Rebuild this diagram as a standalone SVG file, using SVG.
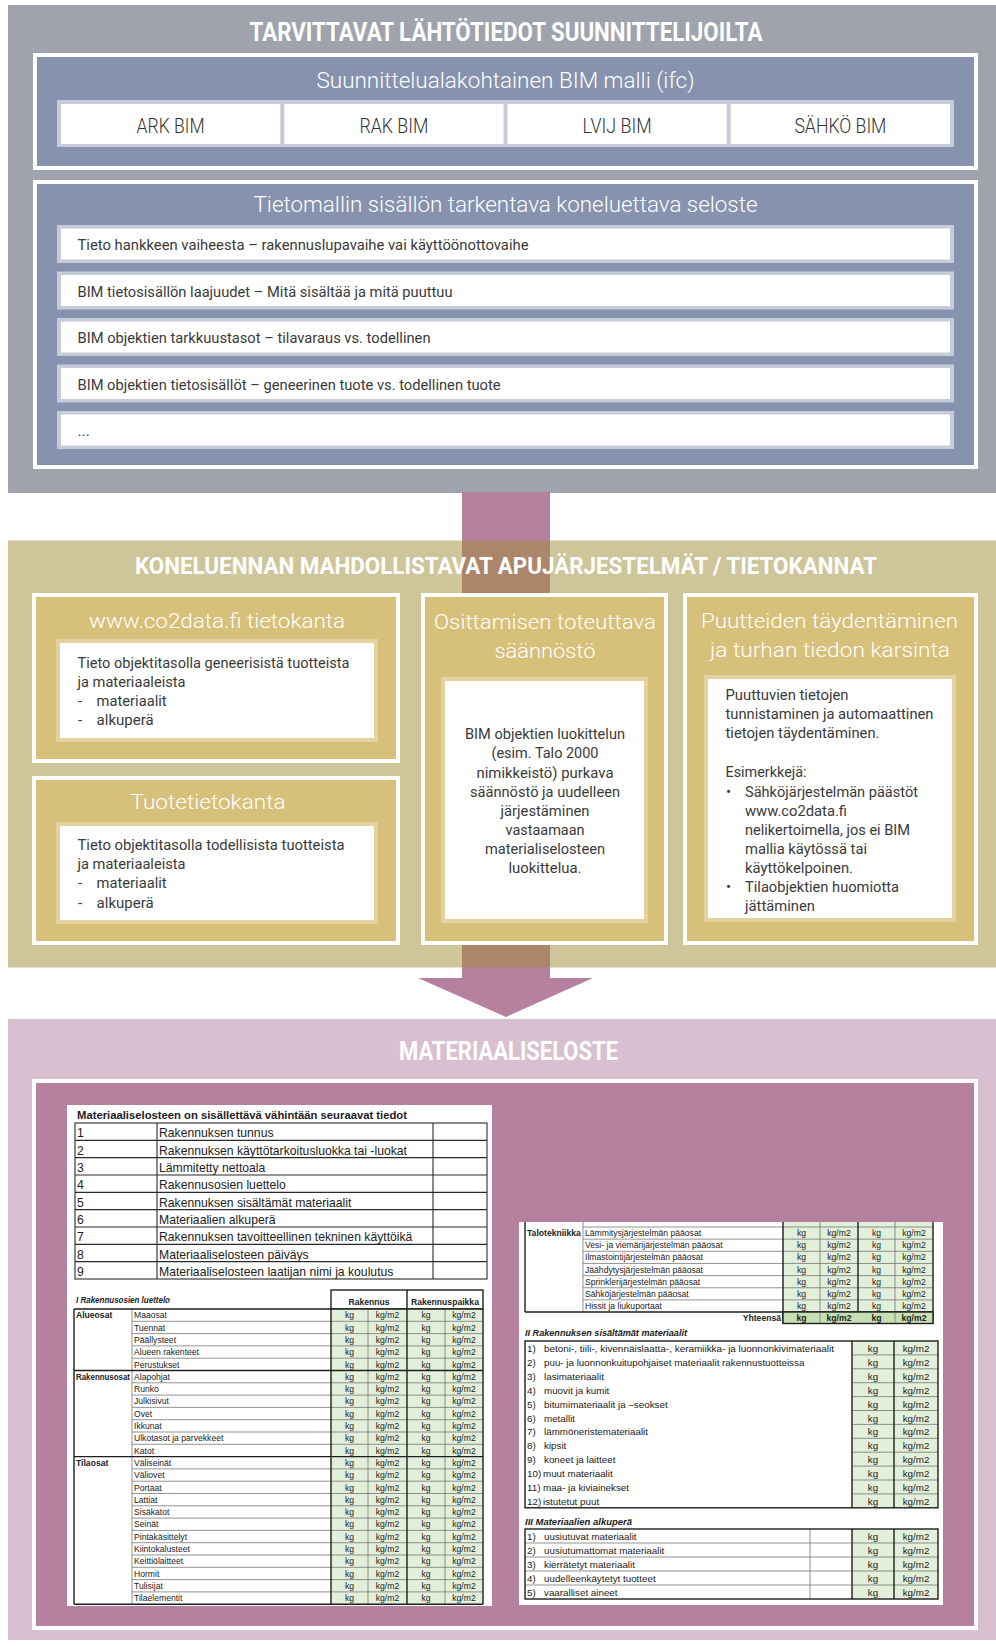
<svg xmlns="http://www.w3.org/2000/svg" width="996" height="1646" viewBox="0 0 996 1646">
<defs>
<style>
.h{font-family:Roboto,"Liberation Sans",sans-serif;font-weight:700;fill:#fff;text-anchor:middle}
.s{font-family:Roboto,"Liberation Sans",sans-serif;font-weight:300;fill:#fff;text-anchor:middle}
.bx{font-family:Roboto,"Liberation Sans",sans-serif;font-weight:300;fill:#333;text-anchor:middle;font-size:20px}
.tx{font-family:Roboto,"Liberation Sans",sans-serif;font-weight:400;fill:#3a3a3a;font-size:15px}
.row{font-family:Roboto,"Liberation Sans",sans-serif;font-weight:400;fill:#3a3a3a;font-size:15.5px}
.c{text-anchor:middle}
.doc{font-family:"Liberation Sans",Arial,sans-serif;fill:#222}
.sm{font-size:8.6px}
.md{font-size:9.8px}
.lg{font-size:12.2px}
.b{font-weight:700}
.bi{font-weight:700;font-style:italic}
.thin{stroke:#666;stroke-width:0.7;fill:none}
.thick{stroke:#1e1e1e;stroke-width:1.4;fill:none}
.mid{stroke:#2a2a2a;stroke-width:1.1;fill:none}
.g{fill:#e2efda}
.gd{fill:#c6e0b4}
.strip{fill:#c6cbd9}
.wh{fill:#fff}
.gold{fill:#d7c07a}
.goldedge{fill:#e4d39f}
</style>
</defs>

<rect x="0" y="0" width="996" height="1646" fill="#fff"/>

<!-- Upper panel: source data from designers -->
<g id="lahtotiedot">
  <rect x="8" y="5" width="988" height="488" fill="#a0a3ad"/>
  <text class="h" x="506" y="41" font-size="26" textLength="513" lengthAdjust="spacingAndGlyphs">TARVITTAVAT LÄHTÖTIEDOT SUUNNITTELIJOILTA</text>
</g>

<g id="bim-malli">
  <rect x="33" y="53" width="945" height="117" class="wh"/>
  <rect x="37" y="57" width="937" height="109" fill="#8692ae"/>
  <text class="s" x="505.5" y="88" font-size="22" textLength="378" lengthAdjust="spacingAndGlyphs">Suunnittelualakohtainen BIM malli (ifc)</text>
  <rect x="57" y="100" width="897" height="47" class="strip"/>
</g>
<g id="ark-bim">
  <rect x="61" y="104" width="219.25" height="40" class="wh"/>
  <text class="bx" x="170.6" y="133" textLength="68" lengthAdjust="spacingAndGlyphs">ARK BIM</text>
</g>
<g id="rak-bim">
  <rect x="284.25" y="104" width="219.25" height="40" class="wh"/>
  <text class="bx" x="393.9" y="133" textLength="69" lengthAdjust="spacingAndGlyphs">RAK BIM</text>
</g>
<g id="lvij-bim">
  <rect x="507.5" y="104" width="219.25" height="40" class="wh"/>
  <text class="bx" x="617.1" y="133" textLength="69" lengthAdjust="spacingAndGlyphs">LVIJ BIM</text>
</g>
<g id="sahko-bim">
  <rect x="730.75" y="104" width="219.25" height="40" class="wh"/>
  <text class="bx" x="840.4" y="133" textLength="92" lengthAdjust="spacingAndGlyphs">SÄHKÖ BIM</text>
</g>

<g id="seloste">
  <rect x="33" y="180" width="945" height="289" class="wh"/>
  <rect x="37" y="184" width="937" height="281" fill="#8692ae"/>
  <text class="s" x="505.5" y="212" font-size="21.5" textLength="504" lengthAdjust="spacingAndGlyphs">Tietomallin sisällön tarkentava koneluettava seloste</text>
</g>
<g id="seloste-vaihe">
  <rect x="57" y="225" width="897" height="38" class="strip"/>
  <rect x="61" y="228.5" width="889" height="31" class="wh"/>
  <text class="row" x="77.5" y="250" textLength="451" lengthAdjust="spacingAndGlyphs">Tieto hankkeen vaiheesta – rakennuslupavaihe vai käyttöönottovaihe</text>
</g>
<g id="seloste-laajuus">
  <rect x="57" y="271.5" width="897" height="38" class="strip"/>
  <rect x="61" y="275" width="889" height="31" class="wh"/>
  <text class="row" x="77.5" y="296.5" textLength="375" lengthAdjust="spacingAndGlyphs">BIM tietosisällön laajuudet – Mitä sisältää ja mitä puuttuu</text>
</g>
<g id="seloste-tarkkuus">
  <rect x="57" y="318" width="897" height="38" class="strip"/>
  <rect x="61" y="321.5" width="889" height="31" class="wh"/>
  <text class="row" x="77.5" y="343" textLength="353" lengthAdjust="spacingAndGlyphs">BIM objektien tarkkuustasot – tilavaraus vs. todellinen</text>
</g>
<g id="seloste-sisalto">
  <rect x="57" y="364.5" width="897" height="38" class="strip"/>
  <rect x="61" y="368" width="889" height="31" class="wh"/>
  <text class="row" x="77.5" y="389.5" textLength="423" lengthAdjust="spacingAndGlyphs">BIM objektien tietosisällöt – geneerinen tuote vs. todellinen tuote</text>
</g>
<g id="seloste-muut">
  <rect x="57" y="411" width="897" height="38" class="strip"/>
  <rect x="61" y="414.5" width="889" height="31" class="wh"/>
  <text class="row" x="77.5" y="436">...</text>
</g>

<!-- Flow arrow running through the middle panel -->
<g id="connectors">
  <path d="M462 492 H550 V978 H593 L506 1017 L418 978 H462 Z" fill="#b6819f"/>
</g>

<!-- Middle panel: supporting systems (translucent over the arrow) -->
<g id="apujarjestelmat">
  <rect x="8" y="540.5" width="988" height="427" fill="#9f8b37" fill-opacity="0.5"/>
  <text class="h" x="506" y="574" font-size="24" textLength="742" lengthAdjust="spacingAndGlyphs">KONELUENNAN MAHDOLLISTAVAT APUJÄRJESTELMÄT / TIETOKANNAT</text>
</g>

<g id="co2data">
  <rect x="32" y="593" width="368" height="170" class="wh"/>
  <rect x="36" y="597" width="360" height="162" class="gold"/>
  <text class="s" x="217" y="628" font-size="21" textLength="256" lengthAdjust="spacingAndGlyphs">www.co2data.fi tietokanta</text>
  <rect x="56" y="639" width="322" height="103" class="goldedge"/>
  <rect x="60" y="643" width="314" height="95" class="wh"/>
  <text class="tx" x="77.5" y="668" textLength="272" lengthAdjust="spacingAndGlyphs">Tieto objektitasolla geneerisistä tuotteista</text>
  <text class="tx" x="77.5" y="687" textLength="108" lengthAdjust="spacingAndGlyphs">ja materiaaleista</text>
  <text class="tx" x="78" y="706">-</text>
  <text class="tx" x="96.6" y="706" textLength="70" lengthAdjust="spacingAndGlyphs">materiaalit</text>
  <text class="tx" x="78" y="725">-</text>
  <text class="tx" x="96.6" y="725" textLength="57" lengthAdjust="spacingAndGlyphs">alkuperä</text>
</g>

<g id="tuotetietokanta">
  <rect x="32" y="776" width="368" height="169" class="wh"/>
  <rect x="36" y="780" width="360" height="161" class="gold"/>
  <text class="s" x="208" y="809" font-size="21" textLength="155" lengthAdjust="spacingAndGlyphs">Tuotetietokanta</text>
  <rect x="56" y="822" width="322" height="102" class="goldedge"/>
  <rect x="60" y="826" width="314" height="94" class="wh"/>
  <text class="tx" x="77.5" y="850" textLength="267" lengthAdjust="spacingAndGlyphs">Tieto objektitasolla todellisista tuotteista</text>
  <text class="tx" x="77.5" y="869" textLength="108" lengthAdjust="spacingAndGlyphs">ja materiaaleista</text>
  <text class="tx" x="78" y="888">-</text>
  <text class="tx" x="96.6" y="888" textLength="70" lengthAdjust="spacingAndGlyphs">materiaalit</text>
  <text class="tx" x="78" y="908">-</text>
  <text class="tx" x="96.6" y="908" textLength="57" lengthAdjust="spacingAndGlyphs">alkuperä</text>
</g>

<g id="osittaminen">
  <rect x="421" y="593" width="247" height="352" class="wh"/>
  <rect x="425" y="597" width="239" height="344" class="gold"/>
  <text class="s" x="545" y="629" font-size="21" textLength="222" lengthAdjust="spacingAndGlyphs">Osittamisen toteuttava</text>
  <text class="s" x="545" y="658" font-size="21" textLength="101" lengthAdjust="spacingAndGlyphs">säännöstö</text>
  <rect x="441" y="677" width="207" height="246" class="goldedge"/>
  <rect x="445" y="681" width="199" height="238" class="wh"/>
  <text class="tx c" x="545" y="739" textLength="160" lengthAdjust="spacingAndGlyphs">BIM objektien luokittelun</text>
  <text class="tx c" x="545" y="758" textLength="107" lengthAdjust="spacingAndGlyphs">(esim. Talo 2000</text>
  <text class="tx c" x="545" y="778" textLength="137" lengthAdjust="spacingAndGlyphs">nimikkeistö) purkava</text>
  <text class="tx c" x="545" y="797" textLength="150" lengthAdjust="spacingAndGlyphs">säännöstö ja uudelleen</text>
  <text class="tx c" x="545" y="816" textLength="89" lengthAdjust="spacingAndGlyphs">järjestäminen</text>
  <text class="tx c" x="545" y="835" textLength="79" lengthAdjust="spacingAndGlyphs">vastaamaan</text>
  <text class="tx c" x="545" y="854" textLength="120" lengthAdjust="spacingAndGlyphs">materialiselosteen</text>
  <text class="tx c" x="545" y="873" textLength="73" lengthAdjust="spacingAndGlyphs">luokittelua.</text>
</g>

<g id="puutteet">
  <rect x="683" y="593" width="295" height="352" class="wh"/>
  <rect x="687" y="597" width="287" height="344" class="gold"/>
  <text class="s" x="829.5" y="628" font-size="21" textLength="257" lengthAdjust="spacingAndGlyphs">Puutteiden täydentäminen</text>
  <text class="s" x="830" y="657" font-size="21" textLength="240" lengthAdjust="spacingAndGlyphs">ja turhan tiedon karsinta</text>
  <rect x="704" y="675" width="252" height="247" class="goldedge"/>
  <rect x="708" y="679" width="244" height="239" class="wh"/>
  <text class="tx" x="725.5" y="700" textLength="123" lengthAdjust="spacingAndGlyphs">Puuttuvien tietojen</text>
  <text class="tx" x="725.5" y="719" textLength="208" lengthAdjust="spacingAndGlyphs">tunnistaminen ja automaattinen</text>
  <text class="tx" x="725.5" y="738" textLength="154" lengthAdjust="spacingAndGlyphs">tietojen täydentäminen.</text>
  <text class="tx" x="725.5" y="777" textLength="81" lengthAdjust="spacingAndGlyphs">Esimerkkejä:</text>
  <text class="tx" x="726" y="797">•</text>
  <text class="tx" x="745" y="797" textLength="173" lengthAdjust="spacingAndGlyphs">Sähköjärjestelmän päästöt</text>
  <text class="tx" x="745" y="816" textLength="102" lengthAdjust="spacingAndGlyphs">www.co2data.fi</text>
  <text class="tx" x="745" y="835" textLength="165" lengthAdjust="spacingAndGlyphs">nelikertoimella, jos ei BIM</text>
  <text class="tx" x="745" y="854" textLength="122" lengthAdjust="spacingAndGlyphs">mallia käytössä tai</text>
  <text class="tx" x="745" y="873" textLength="108" lengthAdjust="spacingAndGlyphs">käyttökelpoinen.</text>
  <text class="tx" x="726" y="892">•</text>
  <text class="tx" x="745" y="892" textLength="154" lengthAdjust="spacingAndGlyphs">Tilaobjektien huomiotta</text>
  <text class="tx" x="745" y="911" textLength="70" lengthAdjust="spacingAndGlyphs">jättäminen</text>
</g>

<!-- Lower panel: material declaration -->
<g id="materiaaliseloste">
  <rect x="8" y="1019" width="988" height="621" fill="#d9c0d0"/>
  <text class="h" x="508.5" y="1060" font-size="25" textLength="219" lengthAdjust="spacingAndGlyphs">MATERIAALISELOSTE</text>
  <rect x="32" y="1079" width="946" height="551" class="wh"/>
  <rect x="36" y="1083" width="938" height="543" fill="#b6819f"/>
</g>

<!-- Form sheet, left: minimum contents and building part list -->
<g id="lomake-vahimmaistiedot" class="doc">
  <rect x="67" y="1105" width="425" height="501" class="wh"/>
  <text class="b" x="77" y="1119" font-size="11.5" textLength="330" lengthAdjust="spacingAndGlyphs">Materiaaliselosteen on sisällettävä vähintään seuraavat tiedot</text>
  <rect x="75" y="1123" width="412" height="156" class="mid"/>
  <path class="mid" d="M157 1123V1279M433 1123V1279M75 1140.33H487M75 1157.67H487M75 1175H487M75 1192.33H487M75 1209.67H487M75 1227H487M75 1244.33H487M75 1261.67H487"/>
  <g class="lg">
    <text x="77" y="1137.3">1</text><text x="159" y="1137.3">Rakennuksen tunnus</text>
    <text x="77" y="1154.6">2</text><text x="159" y="1154.6">Rakennuksen käyttötarkoitusluokka tai -luokat</text>
    <text x="77" y="1172">3</text><text x="159" y="1172">Lämmitetty nettoala</text>
    <text x="77" y="1189.3">4</text><text x="159" y="1189.3">Rakennusosien luettelo</text>
    <text x="77" y="1206.6">5</text><text x="159" y="1206.6">Rakennuksen sisältämät materiaalit</text>
    <text x="77" y="1224">6</text><text x="159" y="1224">Materiaalien alkuperä</text>
    <text x="77" y="1241.3">7</text><text x="159" y="1241.3">Rakennuksen tavoitteellinen tekninen käyttöikä</text>
    <text x="77" y="1258.6">8</text><text x="159" y="1258.6">Materiaaliselosteen päiväys</text>
    <text x="77" y="1276">9</text><text x="159" y="1276">Materiaaliselosteen laatijan nimi ja koulutus</text>
  </g>

  <text class="bi" x="76" y="1303" font-size="8.6" textLength="94" lengthAdjust="spacingAndGlyphs">I Rakennusosien luettelo</text>
  <rect x="331" y="1290" width="152" height="19" class="thick"/>
  <path class="thick" d="M407 1290V1309"/>
  <text class="sm b c" x="369" y="1305">Rakennus</text>
  <text class="sm b c" x="445" y="1305">Rakennuspaikka</text>

  <rect x="331" y="1309" width="152" height="295.2" class="g"/>
  <path class="thin" d="M132 1321.3H483M132 1333.6H483M132 1345.9H483M132 1358.2H483M132 1382.8H483M132 1395.1H483M132 1407.4H483M132 1419.7H483M132 1432H483M132 1444.3H483M132 1468.9H483M132 1481.2H483M132 1493.5H483M132 1505.8H483M132 1518.1H483M132 1530.4H483M132 1542.7H483M132 1555H483M132 1567.3H483M132 1579.6H483M132 1591.9H483M132 1309V1604.2M368 1309V1604.2M445 1309V1604.2"/>
  <path class="thick" d="M74 1309H483M74 1370.5H483M74 1456.6H483M74 1604.2H483M74 1309V1604.2M331 1309V1604.2M407 1309V1604.2M483 1309V1604.2"/>

  <g class="sm">
    <text class="b" x="76" y="1318.3">Alueosat</text>
    <text class="b" x="76" y="1379.8" textLength="54" lengthAdjust="spacingAndGlyphs">Rakennusosat</text>
    <text class="b" x="76" y="1465.9">Tilaosat</text>
    <text x="134" y="1318.3">Maaosat</text>
    <text x="134" y="1330.6">Tuennat</text>
    <text x="134" y="1342.9">Päällysteet</text>
    <text x="134" y="1355.2">Alueen rakenteet</text>
    <text x="134" y="1367.5">Perustukset</text>
    <text x="134" y="1379.8">Alapohjat</text>
    <text x="134" y="1392.1">Runko</text>
    <text x="134" y="1404.4">Julkisivut</text>
    <text x="134" y="1416.7">Ovet</text>
    <text x="134" y="1429">Ikkunat</text>
    <text x="134" y="1441.3">Ulkotasot ja parvekkeet</text>
    <text x="134" y="1453.6">Katot</text>
    <text x="134" y="1465.9">Väliseinät</text>
    <text x="134" y="1478.2">Väliovet</text>
    <text x="134" y="1490.5">Portaat</text>
    <text x="134" y="1502.8">Lattiat</text>
    <text x="134" y="1515.1">Sisäkatot</text>
    <text x="134" y="1527.4">Seinät</text>
    <text x="134" y="1539.7">Pintakäsittelyt</text>
    <text x="134" y="1552">Kiintokalusteet</text>
    <text x="134" y="1564.3">Keittiölaitteet</text>
    <text x="134" y="1576.6">Hormit</text>
    <text x="134" y="1588.9">Tulisijat</text>
    <text x="134" y="1601.2">Tilaelementit</text>
  </g>
  <g class="sm c">
    <text y="1318.3"><tspan x="349.5">kg</tspan><tspan x="387.5">kg/m2</tspan><tspan x="426">kg</tspan><tspan x="464">kg/m2</tspan></text>
    <text y="1330.6"><tspan x="349.5">kg</tspan><tspan x="387.5">kg/m2</tspan><tspan x="426">kg</tspan><tspan x="464">kg/m2</tspan></text>
    <text y="1342.9"><tspan x="349.5">kg</tspan><tspan x="387.5">kg/m2</tspan><tspan x="426">kg</tspan><tspan x="464">kg/m2</tspan></text>
    <text y="1355.2"><tspan x="349.5">kg</tspan><tspan x="387.5">kg/m2</tspan><tspan x="426">kg</tspan><tspan x="464">kg/m2</tspan></text>
    <text y="1367.5"><tspan x="349.5">kg</tspan><tspan x="387.5">kg/m2</tspan><tspan x="426">kg</tspan><tspan x="464">kg/m2</tspan></text>
    <text y="1379.8"><tspan x="349.5">kg</tspan><tspan x="387.5">kg/m2</tspan><tspan x="426">kg</tspan><tspan x="464">kg/m2</tspan></text>
    <text y="1392.1"><tspan x="349.5">kg</tspan><tspan x="387.5">kg/m2</tspan><tspan x="426">kg</tspan><tspan x="464">kg/m2</tspan></text>
    <text y="1404.4"><tspan x="349.5">kg</tspan><tspan x="387.5">kg/m2</tspan><tspan x="426">kg</tspan><tspan x="464">kg/m2</tspan></text>
    <text y="1416.7"><tspan x="349.5">kg</tspan><tspan x="387.5">kg/m2</tspan><tspan x="426">kg</tspan><tspan x="464">kg/m2</tspan></text>
    <text y="1429"><tspan x="349.5">kg</tspan><tspan x="387.5">kg/m2</tspan><tspan x="426">kg</tspan><tspan x="464">kg/m2</tspan></text>
    <text y="1441.3"><tspan x="349.5">kg</tspan><tspan x="387.5">kg/m2</tspan><tspan x="426">kg</tspan><tspan x="464">kg/m2</tspan></text>
    <text y="1453.6"><tspan x="349.5">kg</tspan><tspan x="387.5">kg/m2</tspan><tspan x="426">kg</tspan><tspan x="464">kg/m2</tspan></text>
    <text y="1465.9"><tspan x="349.5">kg</tspan><tspan x="387.5">kg/m2</tspan><tspan x="426">kg</tspan><tspan x="464">kg/m2</tspan></text>
    <text y="1478.2"><tspan x="349.5">kg</tspan><tspan x="387.5">kg/m2</tspan><tspan x="426">kg</tspan><tspan x="464">kg/m2</tspan></text>
    <text y="1490.5"><tspan x="349.5">kg</tspan><tspan x="387.5">kg/m2</tspan><tspan x="426">kg</tspan><tspan x="464">kg/m2</tspan></text>
    <text y="1502.8"><tspan x="349.5">kg</tspan><tspan x="387.5">kg/m2</tspan><tspan x="426">kg</tspan><tspan x="464">kg/m2</tspan></text>
    <text y="1515.1"><tspan x="349.5">kg</tspan><tspan x="387.5">kg/m2</tspan><tspan x="426">kg</tspan><tspan x="464">kg/m2</tspan></text>
    <text y="1527.4"><tspan x="349.5">kg</tspan><tspan x="387.5">kg/m2</tspan><tspan x="426">kg</tspan><tspan x="464">kg/m2</tspan></text>
    <text y="1539.7"><tspan x="349.5">kg</tspan><tspan x="387.5">kg/m2</tspan><tspan x="426">kg</tspan><tspan x="464">kg/m2</tspan></text>
    <text y="1552"><tspan x="349.5">kg</tspan><tspan x="387.5">kg/m2</tspan><tspan x="426">kg</tspan><tspan x="464">kg/m2</tspan></text>
    <text y="1564.3"><tspan x="349.5">kg</tspan><tspan x="387.5">kg/m2</tspan><tspan x="426">kg</tspan><tspan x="464">kg/m2</tspan></text>
    <text y="1576.6"><tspan x="349.5">kg</tspan><tspan x="387.5">kg/m2</tspan><tspan x="426">kg</tspan><tspan x="464">kg/m2</tspan></text>
    <text y="1588.9"><tspan x="349.5">kg</tspan><tspan x="387.5">kg/m2</tspan><tspan x="426">kg</tspan><tspan x="464">kg/m2</tspan></text>
    <text y="1601.2"><tspan x="349.5">kg</tspan><tspan x="387.5">kg/m2</tspan><tspan x="426">kg</tspan><tspan x="464">kg/m2</tspan></text>
  </g>
</g>

<!-- Form sheet, right: building services, materials and origin -->
<g id="lomake-materiaalit" class="doc">
  <rect x="519" y="1222" width="424" height="383" class="wh"/>
  <rect x="783" y="1222" width="150" height="90" class="g"/>
  <path class="thin" d="M583 1227H933M583 1239.15H933M583 1251.3H933M583 1263.45H933M583 1275.6H933M583 1287.75H933M583 1299.9H933M583 1222V1312M820 1222V1312M895 1222V1312"/>
  <path class="thick" d="M525 1222V1312M525 1312H933M783 1222V1323.5M858 1222V1323.5M933 1222V1323.5"/>
  <rect x="783" y="1312" width="150" height="11.5" class="gd"/>
  <rect x="783" y="1312" width="150" height="11.5" class="thick"/>
  <path class="thin" d="M820 1312V1323.5M895 1312V1323.5"/>
  <g class="sm">
    <text class="b" x="527" y="1236">Talotekniikka</text>
    <text x="585" y="1236">Lämmitysjärjestelmän pääosat</text>
    <text x="585" y="1248.2">Vesi- ja viemärijärjestelmän pääosat</text>
    <text x="585" y="1260.3">Ilmastointijärjestelmän pääosat</text>
    <text x="585" y="1272.5">Jäähdytysjärjestelmän pääosat</text>
    <text x="585" y="1284.6">Sprinklerijärjestelmän pääosat</text>
    <text x="585" y="1296.8">Sähköjärjestelmän pääosat</text>
    <text x="585" y="1308.9">Hissit ja liukuportaat</text>
    <text class="b" x="781" y="1321" text-anchor="end">Yhteensä</text>
  </g>
  <g class="sm c">
    <text y="1236"><tspan x="801.5">kg</tspan><tspan x="839">kg/m2</tspan><tspan x="876.5">kg</tspan><tspan x="914">kg/m2</tspan></text>
    <text y="1248.2"><tspan x="801.5">kg</tspan><tspan x="839">kg/m2</tspan><tspan x="876.5">kg</tspan><tspan x="914">kg/m2</tspan></text>
    <text y="1260.3"><tspan x="801.5">kg</tspan><tspan x="839">kg/m2</tspan><tspan x="876.5">kg</tspan><tspan x="914">kg/m2</tspan></text>
    <text y="1272.5"><tspan x="801.5">kg</tspan><tspan x="839">kg/m2</tspan><tspan x="876.5">kg</tspan><tspan x="914">kg/m2</tspan></text>
    <text y="1284.6"><tspan x="801.5">kg</tspan><tspan x="839">kg/m2</tspan><tspan x="876.5">kg</tspan><tspan x="914">kg/m2</tspan></text>
    <text y="1296.8"><tspan x="801.5">kg</tspan><tspan x="839">kg/m2</tspan><tspan x="876.5">kg</tspan><tspan x="914">kg/m2</tspan></text>
    <text y="1308.9"><tspan x="801.5">kg</tspan><tspan x="839">kg/m2</tspan><tspan x="876.5">kg</tspan><tspan x="914">kg/m2</tspan></text>
    <text y="1321" class="b"><tspan x="801.5">kg</tspan><tspan x="839">kg/m2</tspan><tspan x="876.5">kg</tspan><tspan x="914">kg/m2</tspan></text>
  </g>

  <text class="bi" x="525" y="1336" font-size="9.8" textLength="162" lengthAdjust="spacingAndGlyphs">II Rakennuksen sisältämät materiaalit</text>
  <rect x="852" y="1341" width="86" height="166.8" class="g"/>
  <path class="thin" d="M852 1354.9H938M852 1368.8H938M852 1382.7H938M852 1396.6H938M852 1410.5H938M852 1424.4H938M852 1438.3H938M852 1452.2H938M852 1466.1H938M852 1480H938M852 1493.9H938"/>
  <rect x="525" y="1341" width="413" height="166.8" class="thick"/>
  <path class="thick" d="M852 1341V1507.8M894 1341V1507.8"/>
  <g class="md">
    <text x="527" y="1352">1)</text><text x="544" y="1352" textLength="290" lengthAdjust="spacingAndGlyphs">betoni-, tiili-, kivennäislaatta-, keramiikka- ja luonnonkivimateriaalit</text>
    <text x="527" y="1365.9">2)</text><text x="544" y="1365.9">puu- ja luonnonkuitupohjaiset materiaalit rakennustuotteissa</text>
    <text x="527" y="1379.8">3)</text><text x="544" y="1379.8">lasimateriaalit</text>
    <text x="527" y="1393.7">4)</text><text x="544" y="1393.7">muovit ja kumit</text>
    <text x="527" y="1407.6">5)</text><text x="544" y="1407.6">bitumimateriaalit ja –seokset</text>
    <text x="527" y="1421.5">6)</text><text x="544" y="1421.5">metallit</text>
    <text x="527" y="1435.4">7)</text><text x="544" y="1435.4">lämmöneristemateriaalit</text>
    <text x="527" y="1449.3">8)</text><text x="544" y="1449.3">kipsit</text>
    <text x="527" y="1463.2">9)</text><text x="544" y="1463.2">koneet ja laitteet</text>
    <text x="527" y="1477.1">10)</text><text x="543" y="1477.1">muut materiaalit</text>
    <text x="527" y="1491">11)</text><text x="543" y="1491">maa- ja kiviainekset</text>
    <text x="527" y="1504.9">12)</text><text x="543" y="1504.9">istutetut puut</text>
  </g>
  <g class="md c">
    <text y="1352"><tspan x="873">kg</tspan><tspan x="916">kg/m2</tspan></text>
    <text y="1365.9"><tspan x="873">kg</tspan><tspan x="916">kg/m2</tspan></text>
    <text y="1379.8"><tspan x="873">kg</tspan><tspan x="916">kg/m2</tspan></text>
    <text y="1393.7"><tspan x="873">kg</tspan><tspan x="916">kg/m2</tspan></text>
    <text y="1407.6"><tspan x="873">kg</tspan><tspan x="916">kg/m2</tspan></text>
    <text y="1421.5"><tspan x="873">kg</tspan><tspan x="916">kg/m2</tspan></text>
    <text y="1435.4"><tspan x="873">kg</tspan><tspan x="916">kg/m2</tspan></text>
    <text y="1449.3"><tspan x="873">kg</tspan><tspan x="916">kg/m2</tspan></text>
    <text y="1463.2"><tspan x="873">kg</tspan><tspan x="916">kg/m2</tspan></text>
    <text y="1477.1"><tspan x="873">kg</tspan><tspan x="916">kg/m2</tspan></text>
    <text y="1491"><tspan x="873">kg</tspan><tspan x="916">kg/m2</tspan></text>
    <text y="1504.9"><tspan x="873">kg</tspan><tspan x="916">kg/m2</tspan></text>
  </g>

  <text class="bi" x="525" y="1525" font-size="9.8" textLength="107" lengthAdjust="spacingAndGlyphs">III Materiaalien alkuperä</text>
  <rect x="852" y="1529" width="86" height="70" class="g"/>
  <path class="thin" d="M525 1543H938M525 1557H938M525 1571H938M525 1585H938M810 1529V1599"/>
  <rect x="525" y="1529" width="413" height="70" class="thick"/>
  <path class="thick" d="M852 1529V1599M894 1529V1599"/>
  <g class="md">
    <text x="527" y="1540">1)</text><text x="544" y="1540">uusiutuvat materiaalit</text>
    <text x="527" y="1554">2)</text><text x="544" y="1554">uusiutumattomat materiaalit</text>
    <text x="527" y="1568">3)</text><text x="544" y="1568">kierrätetyt materiaalit</text>
    <text x="527" y="1582">4)</text><text x="544" y="1582">uudelleenkäytetyt tuotteet</text>
    <text x="527" y="1596">5)</text><text x="544" y="1596">vaaralliset aineet</text>
  </g>
  <g class="md c">
    <text y="1540"><tspan x="873">kg</tspan><tspan x="916">kg/m2</tspan></text>
    <text y="1554"><tspan x="873">kg</tspan><tspan x="916">kg/m2</tspan></text>
    <text y="1568"><tspan x="873">kg</tspan><tspan x="916">kg/m2</tspan></text>
    <text y="1582"><tspan x="873">kg</tspan><tspan x="916">kg/m2</tspan></text>
    <text y="1596"><tspan x="873">kg</tspan><tspan x="916">kg/m2</tspan></text>
  </g>
</g>
</svg>
